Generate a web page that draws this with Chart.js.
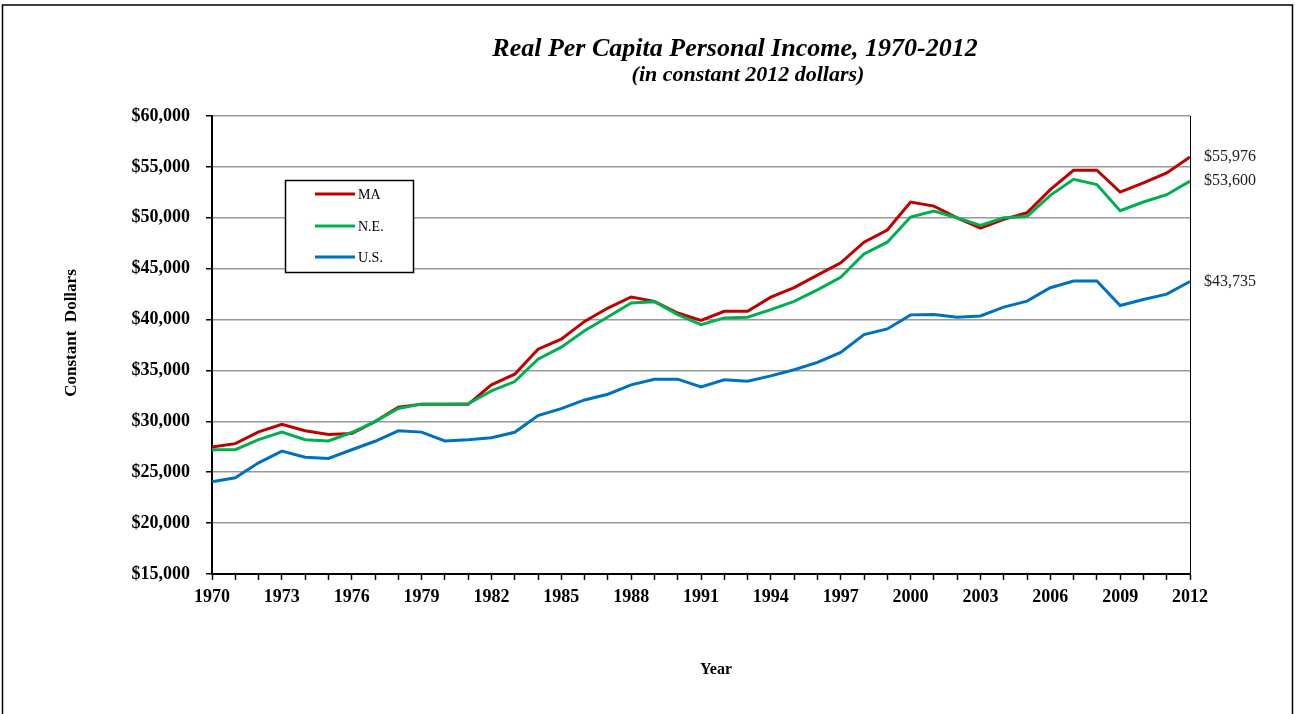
<!DOCTYPE html>
<html>
<head>
<meta charset="utf-8">
<script src="https://cdn.jsdelivr.net/npm/chart.js@4.4.1/dist/chart.umd.min.js"></script>
<style>
  html, body { margin: 0; padding: 0; background: #fff; }
  canvas { display: block; }
</style>
</head>
<body>
<canvas id="myChart" width="1295" height="714"></canvas>
<script>
const years = [
  "1970","1971","1972","1973","1974","1975","1976","1977","1978","1979",
  "1980","1981","1982","1983","1984","1985","1986","1987","1988","1989",
  "1990","1991","1992","1993","1994","1995","1996","1997","1998","1999",
  "2000","2001","2002","2003","2004","2005","2006","2007","2008","2009",
  "2010","2011","2012"
];

const maIncome = [
  27480, 27810, 28970, 29700, 29070, 28700, 28800, 29970, 31400, 31690,
  31690, 31670, 33580, 34630, 37090, 38080, 39820, 41130, 42220, 41790,
  40640, 39920, 40810, 40810, 42200, 43140, 44370, 45570, 47600, 48800,
  51550, 51150, 50000, 48980, 49840, 50490, 52760, 54670, 54670, 52530,
  53420, 54410, 55976
];

const neIncome = [
  27210, 27210, 28200, 28940, 28200, 28070, 28900, 29970, 31260, 31690,
  31690, 31730, 32990, 33910, 36110, 37290, 38900, 40250, 41630, 41760,
  40480, 39500, 40160, 40230, 40970, 41780, 42920, 44150, 46450, 47600,
  50070, 50660, 50000, 49240, 50000, 50130, 52200, 53780, 53260, 50690,
  51550, 52270, 53600
];

const usIncome = [
  24060, 24460, 25920, 27080, 26480, 26350, 27210, 28040, 29070, 28940,
  28070, 28200, 28390, 28920, 30560, 31250, 32100, 32660, 33580, 34140,
  34140, 33390, 34080, 33950, 34470, 35070, 35790, 36780, 38520, 39080,
  40460, 40500, 40230, 40360, 41220, 41810, 43130, 43780, 43780, 41380,
  41970, 42500, 43735
];

const seriesNames = ["MA", "N.E.", "U.S."];
const endLabels = ["$55,976", "$53,600", "$43,735"];

const colors = {
  red: "#C00000",
  green: "#00B050",
  blue: "#0070C0"
};

const serif = "'Liberation Serif', 'Times New Roman', serif";

function money(v) {
  return "$" + v.toLocaleString("en-US");
}

// frame, titles, legend box and end-of-line labels
const decorations = {
  id: "decorations",
  afterDraw(chart) {
    const ctx = chart.ctx;
    const area = chart.chartArea;
    const yScale = chart.scales.y;
    ctx.save();

    // outer frame
    ctx.strokeStyle = "#000";
    ctx.lineWidth = 1.5;
    ctx.beginPath();
    ctx.moveTo(2.5, 720);
    ctx.lineTo(2.5, 5);
    ctx.lineTo(1292.5, 5);
    ctx.lineTo(1292.5, 720);
    ctx.stroke();

    // right edge of the plot
    ctx.lineWidth = 1;
    ctx.beginPath();
    ctx.moveTo(area.right + 0.5, area.top);
    ctx.lineTo(area.right + 0.5, area.bottom);
    ctx.stroke();

    // titles
    ctx.fillStyle = "#000";
    ctx.textAlign = "center";
    ctx.textBaseline = "alphabetic";
    ctx.font = "italic bold 26px " + serif;
    ctx.fillText("Real Per Capita Personal Income, 1970-2012", 735, 56);
    ctx.font = "italic bold 22px " + serif;
    ctx.fillText("(in constant 2012 dollars)", 748, 81);

    // axis titles
    ctx.font = "bold 16px " + serif;
    ctx.textBaseline = "middle";
    ctx.fillText("Year", 716, 670);
    ctx.save();
    ctx.translate(72, 333);
    ctx.rotate(-Math.PI / 2);
    ctx.font = "bold 17px " + serif;
    ctx.fillText("Constant  Dollars", 0, 0);
    ctx.restore();

    // legend
    ctx.fillStyle = "#fff";
    ctx.fillRect(285, 180, 128, 92);
    ctx.strokeStyle = "#000";
    ctx.lineWidth = 1.5;
    ctx.strokeRect(285.5, 180.5, 128, 92);
    const legendY = [194, 226, 257];
    ctx.font = "14px " + serif;
    ctx.textAlign = "left";
    ctx.textBaseline = "middle";
    chart.data.datasets.forEach((ds, i) => {
      ctx.strokeStyle = ds.borderColor;
      ctx.lineWidth = 3;
      ctx.beginPath();
      ctx.moveTo(315, legendY[i]);
      ctx.lineTo(355, legendY[i]);
      ctx.stroke();
      ctx.fillStyle = "#000";
      ctx.fillText(ds.label, 358, legendY[i] + 1);
    });

    // end values
    ctx.font = "16px " + serif;
    chart.data.datasets.forEach((ds, i) => {
      const last = ds.data[ds.data.length - 1];
      ctx.fillStyle = "#222";
      ctx.fillText(endLabels[i], area.right + 14, yScale.getPixelForValue(last));
    });

    ctx.restore();
  }
};

const ctx = document.getElementById("myChart").getContext("2d");

const data = {
  labels: years,
  datasets: [
    { label: seriesNames[0], data: maIncome, borderColor: colors.red, order: 3 },
    { label: seriesNames[1], data: neIncome, borderColor: colors.green, order: 2 },
    { label: seriesNames[2], data: usIncome, borderColor: colors.blue, order: 1 }
  ]
};

const config = {
  type: "line",
  data: data,
  options: {
    responsive: false,
    animation: false,
    devicePixelRatio: 1,
    layout: { padding: { top: 116, right: 105, bottom: 0, left: 0 } },
    elements: {
      line: { borderWidth: 3, tension: 0, fill: false },
      point: { radius: 0 }
    },
    plugins: {
      legend: { display: false },
      title: { display: false },
      tooltip: { enabled: false }
    },
    scales: {
      x: {
        afterFit(scale) { scale.height = 140; },
        grid: {
          drawOnChartArea: false,
          tickLength: 6,
          tickColor: "#000",
          tickWidth: 1.5
        },
        border: { color: "#000", width: 2 },
        ticks: {
          autoSkip: false,
          maxRotation: 0,
          padding: 7,
          color: "#000",
          font: { family: serif, size: 18, weight: "bold" },
          callback: function (value, index) {
            return index % 3 === 0 ? years[index] : "";
          }
        }
      },
      y: {
        min: 15000,
        max: 60000,
        afterFit(scale) { scale.width = 212; },
        grid: {
          color: "#999",
          lineWidth: 1.5,
          tickLength: 6,
          tickColor: "#000",
          tickWidth: 1.5
        },
        border: { color: "#000", width: 2 },
        ticks: {
          stepSize: 5000,
          padding: 16,
          color: "#000",
          font: { family: serif, size: 18, weight: "bold" },
          callback: function (value) { return money(value); }
        }
      }
    }
  },
  plugins: [decorations]
};

const myLineChart = new Chart(ctx, config);
</script>
</body>
</html>
